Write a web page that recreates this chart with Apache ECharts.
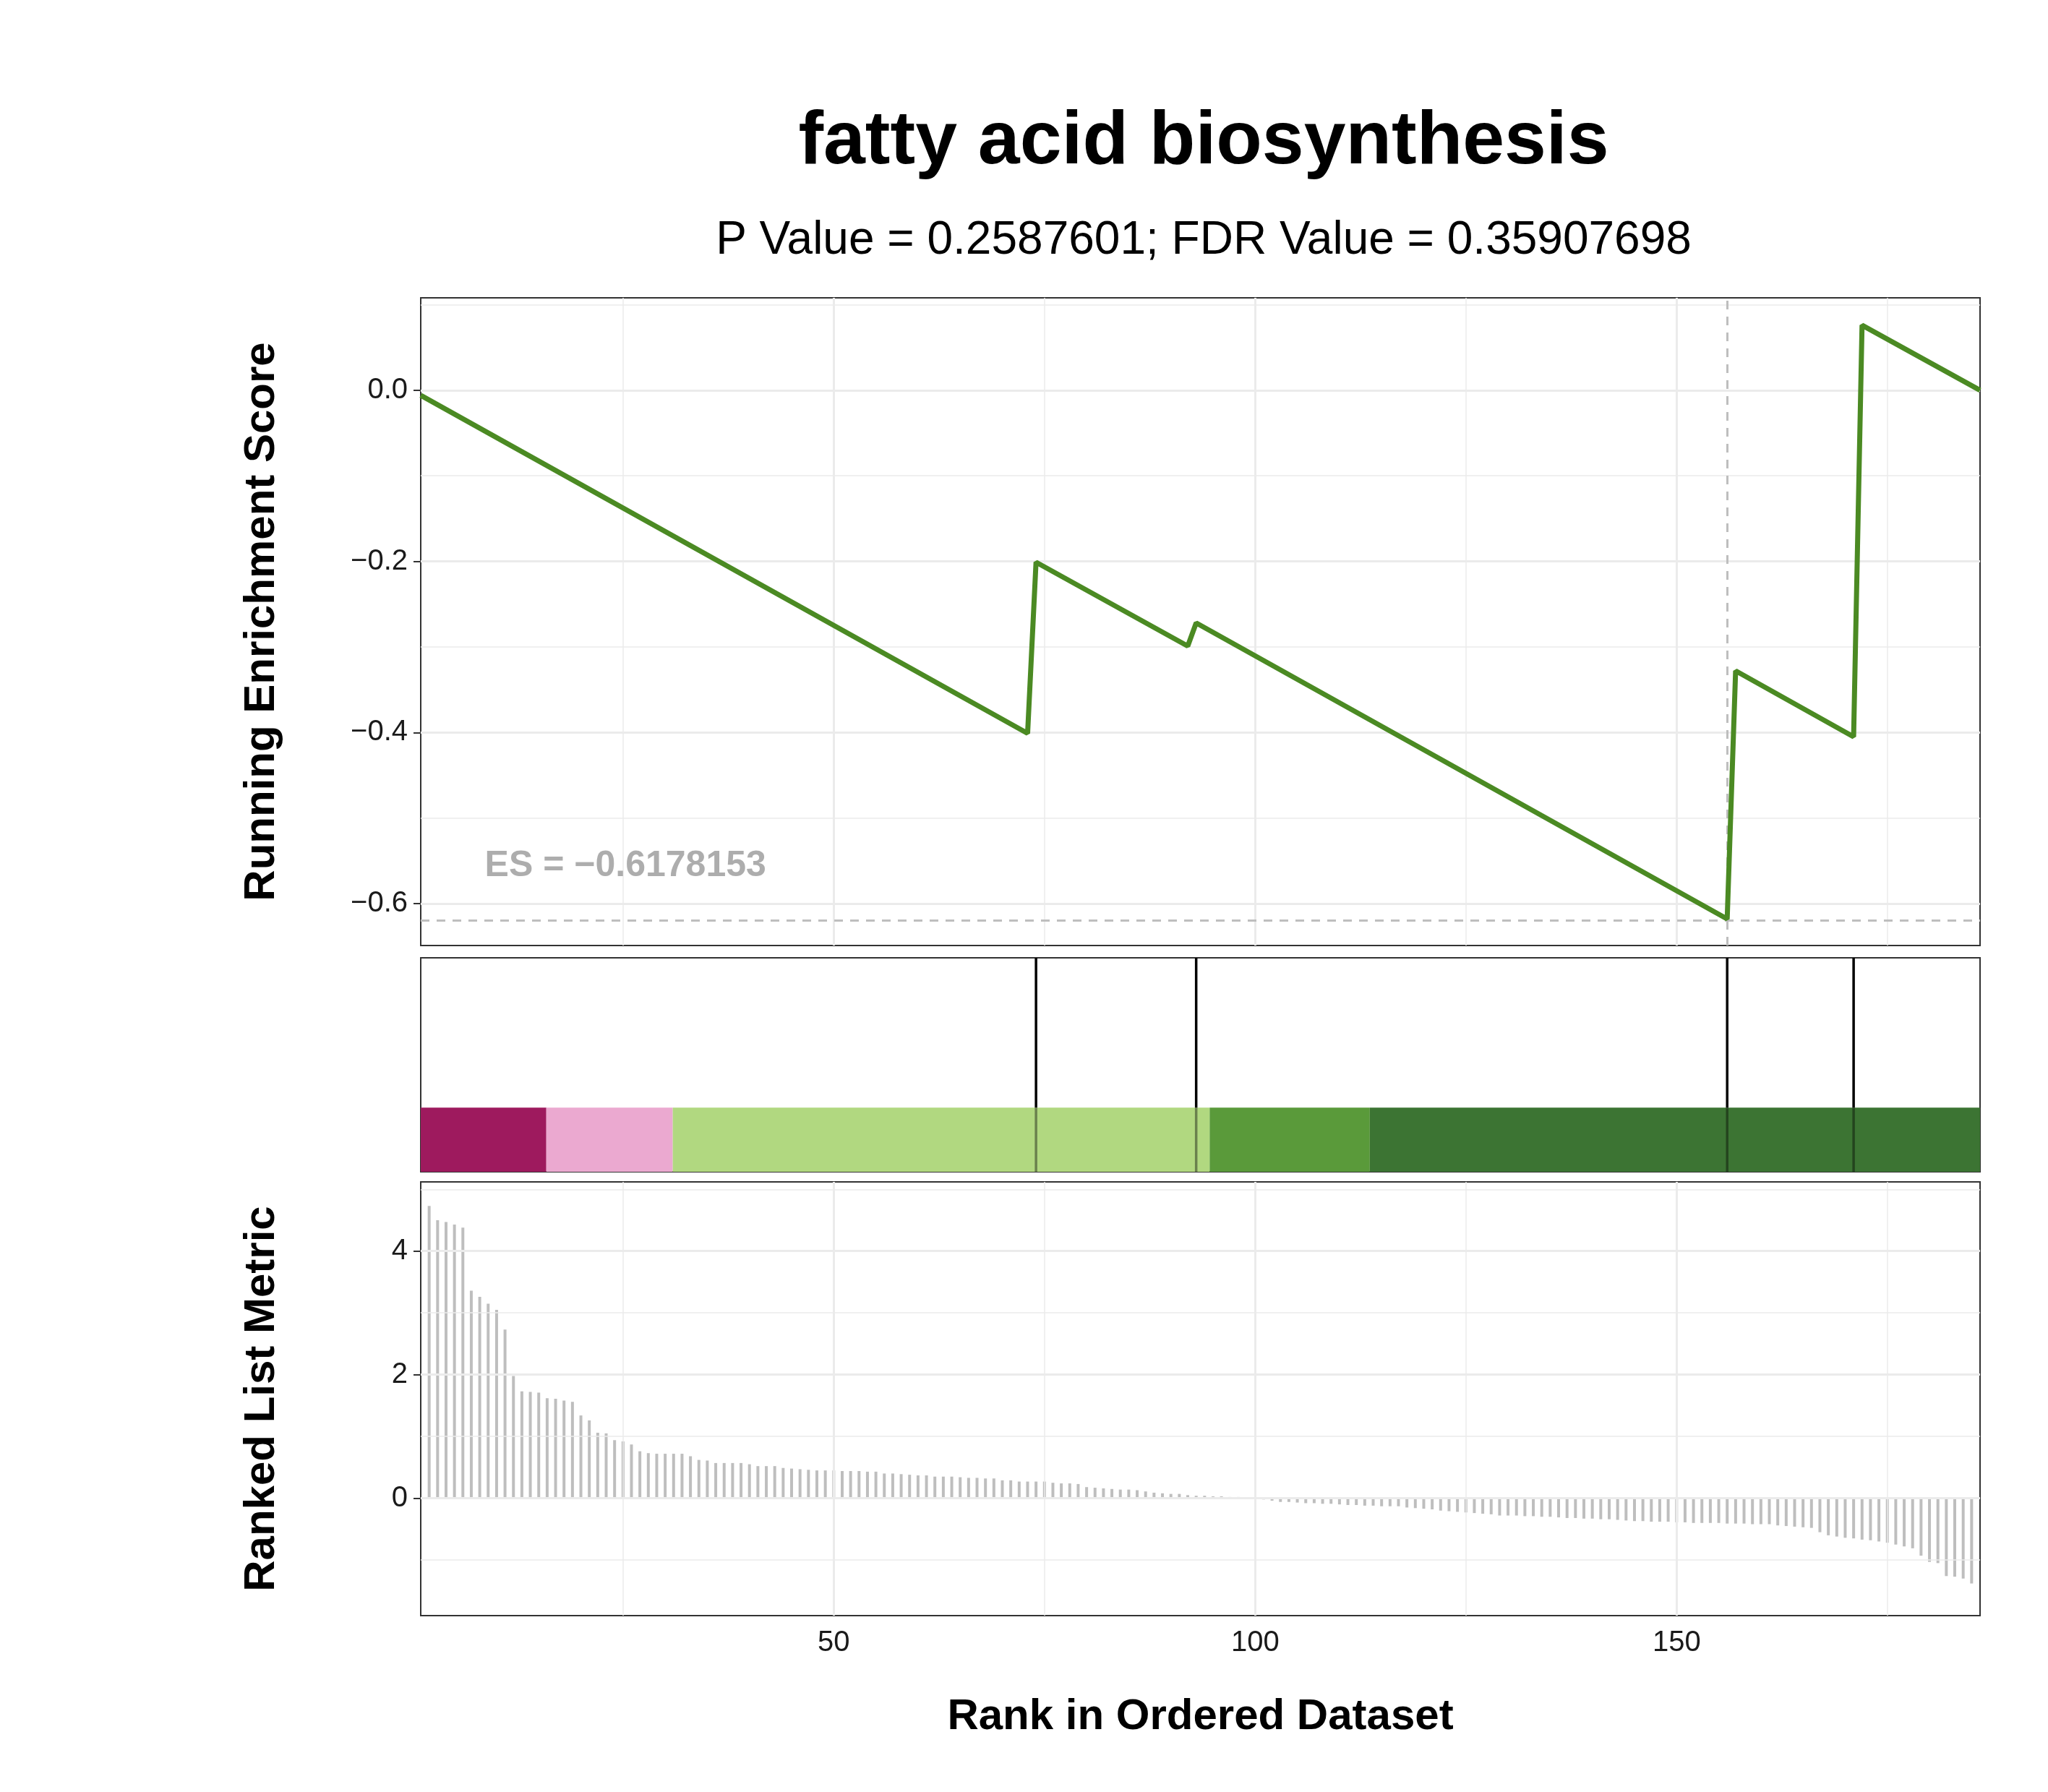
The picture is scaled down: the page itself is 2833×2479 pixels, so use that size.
<!DOCTYPE html>
<html><head><meta charset="utf-8">
<script src="https://cdn.jsdelivr.net/npm/echarts@6/dist/echarts.min.js"></script>
<style>html,body{margin:0;padding:0;background:#fff}#c{width:2833px;height:2479px}</style>
</head><body><div id="c"></div>
<script>
// ---- data ----
const esCurve = [[1,-0.006],[73,-0.401],[74,-0.201],[92,-0.299],[93,-0.272],[156,-0.618],[157,-0.328],[171,-0.405],[172,0.076],[186,0]];
const hits = [74, 93, 156, 171];
const esValue = -0.6178153;
const esRank = 156;
const bandBreaks = [1, 15.9, 30.9, 94.6, 113.6, 186];
const bandColors = ['#9E1A5E', '#EBA9D0', '#B1D880', '#5A9A3A', '#3C7433'];
const metricStartRank = 2;
const metricPos = [4.73,4.50,4.47,4.43,4.38,3.36,3.26,3.15,3.05,2.73,1.98,1.73,1.72,1.71,1.62,1.61,1.58,1.56,1.34,1.26,1.06,1.05,0.94,0.92,0.87,0.76,0.73,0.72,0.72,0.72,0.72,0.68,0.62,0.61,0.57,0.57,0.57,0.57,0.55,0.52,0.52,0.52,0.49,0.48,0.47,0.46,0.45,0.45,0.45,0.44,0.44,0.44,0.43,0.43,0.40,0.40,0.39,0.38,0.37,0.37,0.35,0.35,0.35,0.34,0.33,0.33,0.32,0.32,0.29,0.29,0.27,0.27,0.27,0.27,0.25,0.24,0.24,0.23,0.18,0.17,0.16,0.15,0.14,0.14,0.13,0.11,0.09,0.08,0.07,0.07,0.05,0.04,0.04,0.03,0.03,0.02,0.02,0.01,0.00,-0.02];
const metricNeg = [-0.04,-0.06,-0.06,-0.07,-0.08,-0.08,-0.09,-0.09,-0.10,-0.11,-0.11,-0.12,-0.12,-0.13,-0.13,-0.13,-0.15,-0.16,-0.17,-0.18,-0.20,-0.21,-0.22,-0.23,-0.24,-0.25,-0.26,-0.28,-0.28,-0.28,-0.29,-0.29,-0.30,-0.30,-0.31,-0.32,-0.32,-0.33,-0.33,-0.34,-0.34,-0.35,-0.36,-0.37,-0.37,-0.38,-0.38,-0.38,-0.39,-0.39,-0.40,-0.40,-0.40,-0.40,-0.41,-0.41,-0.41,-0.42,-0.42,-0.42,-0.44,-0.45,-0.46,-0.47,-0.48,-0.55,-0.60,-0.62,-0.64,-0.65,-0.67,-0.68,-0.70,-0.72,-0.75,-0.78,-0.81,-0.93,-1.03,-1.05,-1.26,-1.27,-1.30,-1.38];
const xMajor = [50, 100, 150];
const xMinor = [25, 75, 125, 175];
const y1Major = [0, -0.2, -0.4, -0.6];
const y1Minor = [0.1, -0.1, -0.3, -0.5];
const y3Major = [0, 2, 4];
const y3Minor = [-1, 1, 3, 5];
const titleText = 'fatty acid biosynthesis';
const subText = 'P Value = 0.2587601; FDR Value = 0.35907698';

// ---- build ----
const metric = metricPos.concat(metricNeg);
const metricData = metric.map((v, i) => [metricStartRank + i, v]);
const F = 'Liberation Sans, Arial, sans-serif';
const fmt = v => (v < 0 ? '\u2212' : '') + Math.abs(v).toFixed(1);
const majorStyle = {color:'#EBEBEB', width:3, type:'solid'};
const minorStyle = {color:'#EBEBEB', width:1.5, type:'solid'};
function gridLines(yMaj, yMin) {
  const d = [];
  xMinor.forEach(v => d.push({xAxis:v, lineStyle:minorStyle}));
  yMin.forEach(v => d.push({yAxis:v, lineStyle:minorStyle}));
  xMajor.forEach(v => d.push({xAxis:v, lineStyle:majorStyle}));
  yMaj.forEach(v => d.push({yAxis:v, lineStyle:majorStyle}));
  return {silent:true, symbol:'none', label:{show:false}, animation:false, data:d};
}
const xBase = {type:'value', min:1, max:186, axisLine:{show:false}, splitLine:{show:false}, axisTick:{show:false}, axisLabel:{show:false}};
const chart = echarts.init(document.getElementById('c'));
chart.setOption({
  animation:false,
  backgroundColor:'#fff',
  title:[
    {text:titleText, left:'1660', top:140, textAlign:'center', textStyle:{fontFamily:F, fontSize:104, fontWeight:'bold', color:'#000'}},
    {text:subText, left:'1660', top:296, textAlign:'center', textStyle:{fontFamily:F, fontSize:64, fontWeight:'normal', color:'#000'}}
  ],
  grid:[
    {left:582, width:2157, top:412, height:896, show:true, borderColor:'#333', borderWidth:2, backgroundColor:'transparent'},
    {left:582, width:2157, top:1325, height:296, show:true, borderColor:'#333', borderWidth:2, backgroundColor:'transparent'},
    {left:582, width:2157, top:1635, height:600, show:true, borderColor:'#333', borderWidth:2, backgroundColor:'transparent'}
  ],
  xAxis:[
    Object.assign({gridIndex:0}, xBase),
    Object.assign({gridIndex:1}, xBase),
    Object.assign({}, xBase, {gridIndex:2, name:'Rank in Ordered Dataset', nameLocation:'middle', nameGap:110,
      nameTextStyle:{fontFamily:F, fontSize:60, fontWeight:'bold', color:'#000'},
      axisTick:{show:true, customValues:xMajor, length:10, inside:false, lineStyle:{color:'#333', width:2}},
      axisLabel:{show:true, customValues:xMajor, fontFamily:F, fontSize:40, color:'#1a1a1a', margin:18}})
  ],
  yAxis:[
    {type:'value', gridIndex:0, min:-0.649, max:0.108, axisLine:{show:false}, splitLine:{show:false},
      name:'Running Enrichment Score', nameLocation:'middle', nameGap:190, nameRotate:90,
      nameTextStyle:{fontFamily:F, fontSize:60, fontWeight:'bold', color:'#000'},
      axisTick:{show:true, customValues:y1Major, length:10, lineStyle:{color:'#333', width:2}},
      axisLabel:{customValues:y1Major, formatter:fmt, fontFamily:F, fontSize:40, color:'#1a1a1a', margin:18}},
    {type:'value', gridIndex:1, min:0, max:1, show:false},
    {type:'value', gridIndex:2, min:-1.9, max:5.12, axisLine:{show:false}, splitLine:{show:false},
      name:'Ranked List Metric', nameLocation:'middle', nameGap:190, nameRotate:90,
      nameTextStyle:{fontFamily:F, fontSize:60, fontWeight:'bold', color:'#000'},
      axisTick:{show:true, customValues:y3Major, length:10, lineStyle:{color:'#333', width:2}},
      axisLabel:{customValues:y3Major, formatter:v => String(v), fontFamily:F, fontSize:40, color:'#1a1a1a', margin:18}}
  ],
  series:[
    {type:'line', xAxisIndex:0, yAxisIndex:0, data:[], z:1, markLine:gridLines(y1Major, y1Minor)},
    {type:'line', xAxisIndex:2, yAxisIndex:2, data:[], z:1, markLine:gridLines(y3Major, y3Minor)},
    {type:'line', xAxisIndex:0, yAxisIndex:0, data:[], z:2, markLine:{silent:true, symbol:'none', label:{show:false},
      lineStyle:{color:'#BEBEBE', width:3, type:[12,10]}, data:[{yAxis:esValue},{xAxis:esRank}]}},
    {type:'line', xAxisIndex:0, yAxisIndex:0, data:esCurve, z:5, showSymbol:false, symbol:'none',
      lineStyle:{color:'#4B8A23', width:7}},
    {type:'scatter', xAxisIndex:0, yAxisIndex:0, data:[[8.6,-0.556]], symbolSize:0, z:6,
      label:{show:true, position:'right', distance:0, formatter:'ES = \u2212' + Math.abs(esValue).toFixed(7),
        fontFamily:F, fontSize:50, fontWeight:'bold', color:'#999999'}},
    {type:'custom', xAxisIndex:1, yAxisIndex:1, z:2, data:bandBreaks.slice(0,-1).map((b,i)=>[b, bandBreaks[i+1], i]),
      renderItem:(params, api) => {
        const p0 = api.coord([api.value(0), 0.3]);
        const p1 = api.coord([api.value(1), 0]);
        return {type:'rect', shape:{x:p0[0], y:p0[1], width:p1[0]-p0[0], height:p1[1]-p0[1]},
          style:{fill:bandColors[api.value(2)]}};
      }},
    {type:'custom', xAxisIndex:1, yAxisIndex:1, z:3, data:hits.map(h=>[h]),
      renderItem:(params, api) => {
        const a = api.coord([api.value(0), 1]);
        const m = api.coord([api.value(0), 0.3]);
        const b = api.coord([api.value(0), 0]);
        return {type:'group', children:[
          {type:'line', shape:{x1:a[0], y1:a[1], x2:m[0], y2:m[1]}, style:{stroke:'#000', lineWidth:3.5}},
          {type:'line', shape:{x1:m[0], y1:m[1], x2:b[0], y2:b[1]}, style:{stroke:'rgba(0,0,0,0.4)', lineWidth:3.5}}
        ]};
      }},
    {type:'bar', xAxisIndex:2, yAxisIndex:2, data:metricData, barWidth:4, z:4, itemStyle:{color:'#BEBEBE'}}
  ]
});
</script></body></html>
